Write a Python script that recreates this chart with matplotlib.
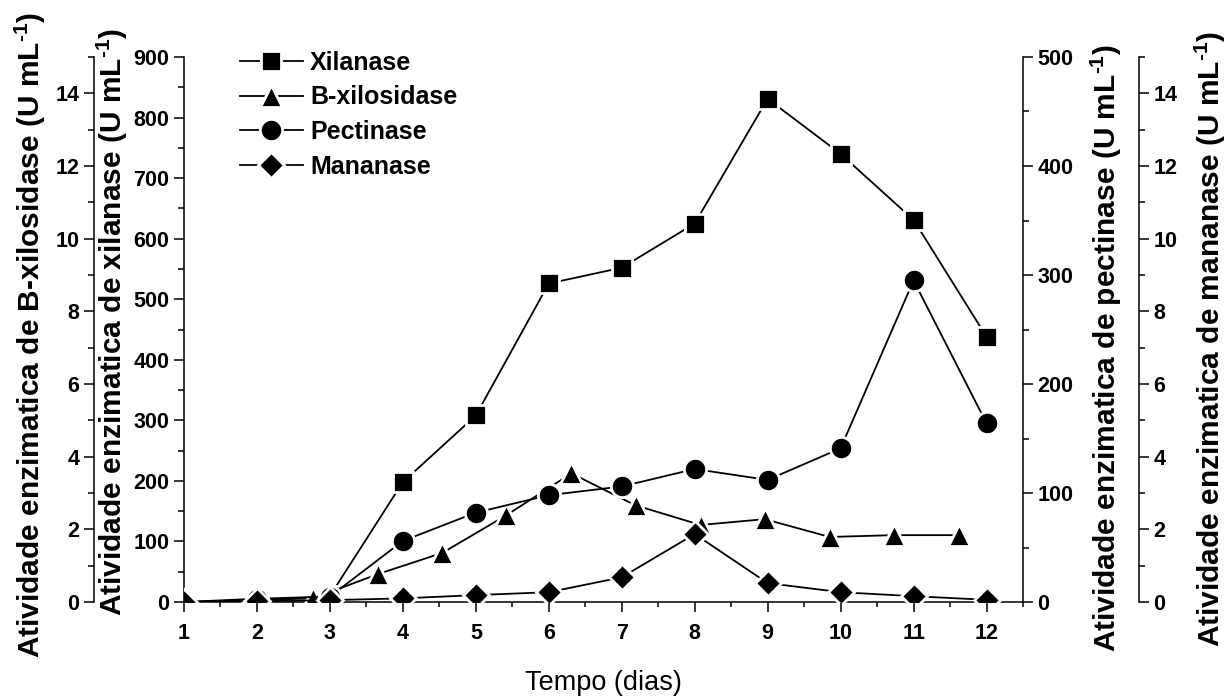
import matplotlib
matplotlib.use('Agg')
import matplotlib.pyplot as plt
from matplotlib.ticker import MultipleLocator

plt.rcParams['font.family'] = ['Liberation Sans', 'DejaVu Sans']
plt.rcParams['mathtext.fontset'] = 'custom'
plt.rcParams['mathtext.bf'] = 'Liberation Sans:bold'
plt.rcParams['mathtext.rm'] = 'Liberation Sans:bold'
plt.rcParams['mathtext.default'] = 'bf'

# data
#=============================
days = [1, 2, 3, 4, 5, 6, 7, 8, 9, 10, 11, 12]
xilanase = [0, 2, 10, 198, 308, 526, 552, 625, 831, 740, 631, 438]
pectinase = [0, 3, 5, 56, 82, 98, 106, 122, 112, 141, 295, 164]
mananase = [0, 0.02, 0.05, 0.1, 0.19, 0.27, 0.68, 1.87, 0.52, 0.27, 0.16, 0.06]

# B-xilosidase was plotted on its own (shifted) x positions
tri_days = [1.0, 1.89, 2.77, 3.66, 4.54, 5.42, 6.31, 7.19, 8.08, 8.96, 9.85, 10.73, 11.62]
bxilosidase = [0, 0.05, 0.1, 0.77, 1.35, 2.39, 3.54, 2.66, 2.12, 2.28, 1.79, 1.84, 1.84]

xticks = list(range(1, 13))

#figure and axes
#=============================
W, H = 1231, 700
fig = plt.figure(figsize=(W/100, H/100), dpi=100)
ax = fig.add_axes([184/W, 1-602/H, 839/W, 545/H])
axb = ax.twinx()
axp = ax.twinx()
axm = ax.twinx()

lw = 1.1
tick_size = 15.5
lab_font = dict(fontsize=21.5, fontweight='bold')
unit = ' (U mL$^{\\text{-1}}$)'

for a in (ax, axb, axp, axm):
    for s in a.spines.values():
        s.set_visible(False)
        s.set_linewidth(lw)

#host: xilanase, inner left
ax.spines['left'].set_visible(True)
ax.spines['bottom'].set_visible(True)
ax.set_xlim(1, 12.5)
ax.set_ylim(0, 900)
ax.set_xticks(xticks)
ax.xaxis.set_minor_locator(MultipleLocator(0.5))
ax.yaxis.set_major_locator(MultipleLocator(100))
ax.yaxis.set_minor_locator(MultipleLocator(50))
ax.tick_params(axis='x', which='major', direction='out', length=7, width=lw, pad=8)
ax.tick_params(axis='x', which='minor', direction='out', length=3.6, width=lw)
ax.tick_params(axis='y', which='major', direction='out', length=7.5, width=lw, pad=3)
ax.tick_params(axis='y', which='minor', direction='out', length=4.5, width=lw)

#B-xilosidase outer left
axb.spines['left'].set_visible(True)
axb.spines['left'].set_position(('outward', 90*0.72))
axb.yaxis.set_ticks_position('left')
axb.yaxis.set_label_position('left')
axb.set_ylim(0, 15)
axb.yaxis.set_major_locator(MultipleLocator(2))
axb.yaxis.set_minor_locator(MultipleLocator(1))

#pectinase inner right
axp.spines['right'].set_visible(True)
axp.set_ylim(0, 500)
axp.yaxis.set_major_locator(MultipleLocator(100))
axp.yaxis.set_minor_locator(MultipleLocator(50))

#mananase outer right
axm.spines['right'].set_visible(True)
axm.spines['right'].set_position(('outward', 116*0.72))
axm.set_ylim(0, 15)
axm.yaxis.set_major_locator(MultipleLocator(2))
axm.yaxis.set_minor_locator(MultipleLocator(1))

for a in (axb, axp, axm):
    a.tick_params(axis='y', which='major', direction='out', length=7.5, width=lw, pad=3)
    a.tick_params(axis='y', which='minor', direction='out', length=4.5, width=lw)

for a in (ax, axb, axp, axm):
    for t in a.get_xticklabels() + a.get_yticklabels():
        t.set_fontsize(tick_size)
        t.set_fontweight('bold')

#series
#=============================
style = dict(color='black', lw=1.3, markerfacecolor='black',
             markeredgecolor='white', markeredgewidth=2.0)
l1, = ax.plot(days, xilanase, marker='s', ms=15, label='Xilanase', **style)
l2, = axb.plot(tri_days, bxilosidase, marker='^', ms=16.5, label='B-xilosidase', **style)
l3, = axp.plot(days, pectinase, marker='o', ms=16, label='Pectinase', **style)
l4, = axm.plot(days, mananase, marker='D', ms=13.5, label='Mananase', **style)

#labels
#=============================
ax.set_ylabel('Atividade enzimatica de xilanase' + unit, va='center', ha='center', **lab_font)
ax.yaxis.set_label_coords(-0.0858, 0.514)
axb.set_ylabel('Atividade enzimatica de B-xilosidase' + unit, va='center', ha='center', **lab_font)
axb.yaxis.set_label_coords(-0.1836, 0.49)
axp.set_ylabel('Atividade enzimatica de pectinase' + unit, va='center', ha='center', **lab_font)
axp.yaxis.set_label_coords(1.1, 0.466)
axm.set_ylabel('Atividade enzimatica de mananase' + unit, va='center', ha='center', **lab_font)
axm.yaxis.set_label_coords(1.223, 0.483)

ax.set_xlabel('Tempo (dias)', fontsize=19.5, va='center')
ax.xaxis.set_label_coords(0.5, (602-683)/545)

leg = axm.legend(handles=[l1, l2, l3, l4], loc='upper left',
                 bbox_to_anchor=(240/W, 1-51/H), bbox_transform=fig.transFigure,
                 frameon=False, borderpad=0, borderaxespad=0, numpoints=1,
                 handlelength=2.5, handletextpad=0.3, labelspacing=0.42,
                 prop=dict(size=18, weight='bold'))

fig.savefig('out.png', dpi=100)
